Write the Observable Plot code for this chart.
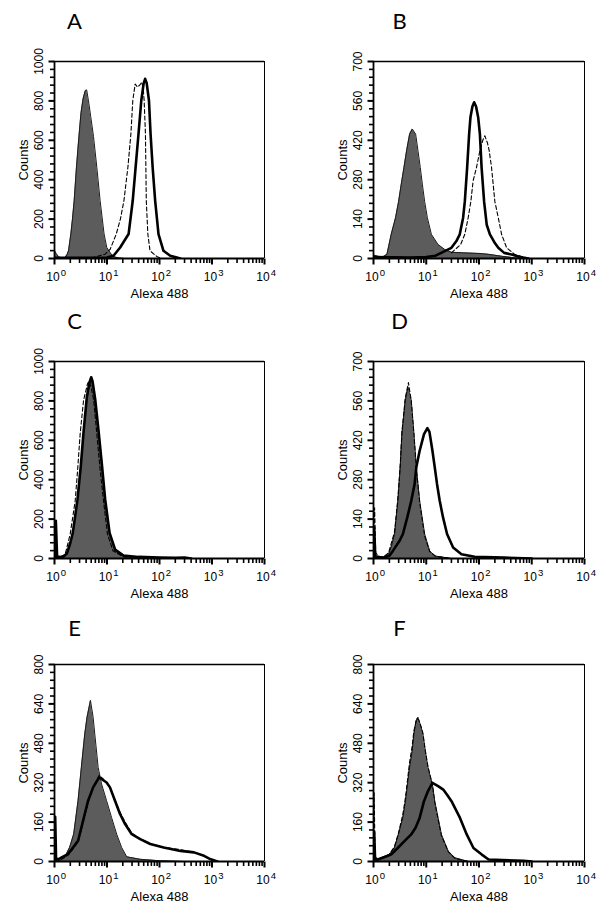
<!DOCTYPE html>
<html>
<head>
<meta charset="utf-8">
<script src="https://cdn.jsdelivr.net/npm/d3@7"></script>
<script src="https://cdn.jsdelivr.net/npm/@observablehq/plot@0.6"></script>
<style>
  html, body { margin: 0; padding: 0; background: #fff; }
  #wrap { position: relative; width: 602px; height: 908px; background: #fff; overflow: hidden; }
  #wrap > div { position: absolute; }
</style>
</head>
<body>
<div id="wrap"></div>
<script>
// ---------- tick labels ----------
const xTickValues = [1, 10, 100, 1000, 10000];
const xTickExponents = ["0", "1", "2", "3", "4"];
const xMinorTicks = [2,3,4,5,6,7,8,9, 20,30,40,50,60,70,80,90, 200,300,400,500,600,700,800,900, 2000,3000,4000,5000,6000,7000,8000,9000];
const yTicks1000 = [0, 200, 400, 600, 800, 1000];
const yTicks700 = [0, 140, 280, 420, 560, 700];
const yTicks800 = [0, 160, 320, 480, 640, 800];
const panelLetters = ["A", "B", "C", "D", "E", "F"];

// ---------- series: [Alexa 488 intensity, counts] ----------
// Panel A
const aFilled = [[1,40],[1.08,25],[1.2,8],[1.4,3],[1.6,5],[1.75,22],[1.85,39],[2.05,124],[2.2,200],[2.37,293],[2.6,450],[2.8,560],[2.95,632],[3.2,740],[3.5,810],[3.84,850],[4.1,856],[4.44,800],[4.9,720],[5.53,620],[6.4,463],[7.4,293],[8.8,124],[9.9,56],[12,22],[14,8],[17,2],[22,0]];
const aSolid = [[1,3],[5,3],[10,5],[13.3,14],[17.8,56],[22,95],[25.8,124],[30.9,293],[35,460],[39.8,632],[45,802],[50,890],[53.3,912],[57,890],[63,802],[67.6,632],[74,463],[82.7,293],[95.7,124],[119,39],[160,14],[214,5],[250,0]];
const aDashed = [[5,2],[9.2,22],[11.5,47],[15,124],[18,200],[21,293],[25,463],[28.5,632],[31,802],[34.4,886],[38,870],[42,880],[46,895],[49,860],[51,802],[54,632],[55,463],[56,293],[60,124],[66,39],[89,10],[110,0]];
// Panel B
const bFilled = [[1,12],[1.2,8],[1.5,5],[1.8,15],[2.17,86],[2.62,145],[2.99,202],[3.36,264],[3.78,323],[4.24,383],[4.84,442],[5.44,460],[6.29,442],[6.97,383],[7.71,323],[8.43,264],[9.33,202],[10.5,145],[12.5,86],[16.7,50],[22.4,32],[30,22],[50,20],[100,18],[150,15],[270,8],[500,2],[900,0]];
const bSolid = [[1,5],[5,3],[10,5],[15,10],[22.4,26],[30,38],[37.3,62],[43.2,86],[50,145],[53.8,202],[59.6,323],[65,442],[68.9,502],[75,540],[80.9,555],[88,540],[96.4,502],[104,442],[112,323],[125,202],[140,120],[161,86],[200,55],[232,38],[300,20],[415,14],[600,5],[861,0]];
const bDashed = [[30,20],[45,50],[53.8,86],[62.4,145],[70,202],[77.4,276],[89.5,323],[104,383],[118,420],[129,436],[145,410],[156,383],[173,323],[200,202],[232,145],[268,86],[334,38],[480,14],[900,0]];
// Panel C
const cFilled = [[1,5],[1.3,3],[1.5,5],[1.72,22],[2.0,70],[2.23,124],[2.74,293],[3.17,463],[3.57,632],[4.13,802],[4.6,880],[5.14,903],[5.5,870],[5.95,802],[6.89,632],[7.97,463],[9.23,293],[11.2,124],[14.3,39],[20.6,14],[32,3],[50,0]];
const cSolid = [[1,5],[1.06,191],[1.12,10],[1.3,8],[1.5,12],[1.72,25],[2.0,80],[2.23,130],[2.74,300],[3.17,470],[3.57,640],[4.13,820],[4.6,890],[5.0,920],[5.3,900],[5.95,810],[6.89,650],[7.97,480],[9.23,300],[11.2,130],[14.3,45],[20.6,15],[40,8],[100,5],[200,3],[300,5],[400,0]];
const cDashed = [[1,5],[1.3,5],[1.6,22],[1.99,124],[2.48,293],[2.78,463],[3.08,632],[3.57,802],[4.25,886],[4.5,900],[5.0,870],[5.6,800],[6.4,632],[7.4,450],[8.58,293],[10.2,124],[13,39],[20,10],[30,0]];
// Panel D
const dFilled = [[1.0,5],[1.3,3],[1.6,5],[1.93,15],[2.2,45],[2.51,87],[2.9,205],[3.21,324],[3.46,442],[4.0,561],[4.5,609],[4.8,590],[5.2,561],[5.85,442],[6.48,324],[7.5,205],[9.33,87],[11.6,27],[14.5,9],[30,0]];
const dSolid = [[1.0,5],[1.03,110],[1.08,8],[1.5,3],[2.0,10],[2.33,27],[3.12,63],[3.61,87],[4.37,146],[5.2,205],[6.02,265],[6.48,324],[7.5,383],[9.07,442],[10.5,463],[11.5,450],[13.1,383],[14.5,324],[16,265],[18,205],[20.8,146],[24.8,87],[32.3,39],[46.5,15],[83,6],[300,3],[1000,0]];
const dDashed = [[1.0,10],[1.05,180],[1.1,20],[1.3,5],[1.6,8],[1.93,20],[2.51,95],[2.9,215],[3.21,330],[3.46,450],[4.0,570],[4.6,625],[5.2,560],[5.85,440],[6.48,320],[7.5,200],[9.33,80],[11.6,25],[15,8],[30,0]];
// Panel E
const eFilled = [[1.0,3],[1.3,5],[1.56,16],[1.94,57],[2.32,111],[2.81,247],[3.25,382],[3.77,518],[4.17,586],[4.84,654],[5.44,586],[5.85,518],[6.79,382],[7.87,315],[9.82,247],[12.2,179],[15.3,111],[19,57],[23.8,19],[42.9,9],[100,3],[300,0]];
const eSolid = [[1.0,5],[1.03,182],[1.07,15],[1.15,8],[1.34,16],[1.8,30],[2.25,57],[2.81,84],[3.25,138],[3.77,193],[4.37,247],[5.44,301],[7.1,342],[8.5,330],[9.82,321],[11.4,301],[14.2,247],[17.7,193],[22.1,152],[29.6,111],[42.9,91],[66.7,71],[120,57],[251,43],[453,37],[705,23],[946,9],[1270,0]];
const eDashed = [[1.0,5],[1.4,12],[1.8,25],[2.25,50],[2.81,80],[3.25,130],[3.77,185],[4.37,240],[5.44,300],[7.1,350],[8.5,335],[9.82,318],[11.4,300],[14.2,250],[17.7,200],[22.1,160],[29.6,115],[42.9,92],[66.7,72],[120,58],[251,48],[453,38],[705,22],[946,8],[1270,0]];
// Panel F
const fFilled = [[1.0,5],[1.2,5],[1.38,15],[2.0,28],[2.49,55],[2.97,110],[3.59,177],[4.04,245],[4.81,380],[5.42,448],[5.83,516],[6.4,570],[6.95,586],[7.6,560],[8.66,516],[9.6,448],[10.8,380],[13.1,313],[14.5,245],[16.8,177],[19.4,110],[26.1,42],[35,15],[63,0]];
const fSolid = [[1.0,5],[1.03,120],[1.07,10],[1.2,8],[1.49,15],[2.15,28],[2.88,55],[3.86,83],[5.18,110],[6.27,137],[7.49,177],[9.06,245],[10.8,286],[13.1,319],[16.8,306],[21,292],[25,270],[30.1,245],[43.6,177],[58.5,110],[78.5,55],[113,28],[152,8],[700,3],[1000,0]];
const fDashed = [[1.0,10],[1.03,279],[1.07,20],[1.2,10],[1.5,15],[2.0,30],[2.49,60],[2.97,115],[3.59,190],[4.04,260],[4.81,400],[5.42,470],[5.83,530],[6.6,580],[7.2,575],[8.2,540],[8.66,520],[9.6,450],[10.8,385],[13.1,310],[14.5,240],[16.8,170],[19.4,105],[26.1,40],[35,12],[63,0]];

// ---------- layout ----------
const panels = [
  {letter: panelLetters[0], filled: aFilled, solid: aSolid, dashed: aDashed, yticks: yTicks1000, col: 0, row: 0},
  {letter: panelLetters[1], filled: bFilled, solid: bSolid, dashed: bDashed, yticks: yTicks700, col: 1, row: 0},
  {letter: panelLetters[2], filled: cFilled, solid: cSolid, dashed: cDashed, yticks: yTicks1000, col: 0, row: 1},
  {letter: panelLetters[3], filled: dFilled, solid: dSolid, dashed: dDashed, yticks: yTicks700, col: 1, row: 1},
  {letter: panelLetters[4], filled: eFilled, solid: eSolid, dashed: eDashed, yticks: yTicks800, col: 0, row: 2},
  {letter: panelLetters[5], filled: fFilled, solid: fSolid, dashed: fDashed, yticks: yTicks800, col: 1, row: 2}
];
const colGeom = [{left: 0, ml: 54, mr: 37, ldx: 20}, {left: 301, ml: 72, mr: 18, ldx: 26}];
const rowGeom = [{top: 0, h: 300, mt: 61, mb: 42, ldy: -33}, {top: 300, h: 300, mt: 61, mb: 42, ldy: -33}, {top: 600, h: 308, mt: 64, mb: 47, ldy: -29}];

// tick glyphs (drawn as custom dot symbols at the scale positions)
const tickDown = len => ({draw(ctx) { ctx.moveTo(0, 0); ctx.lineTo(0, len); }});
const tickLeft = len => ({draw(ctx) { ctx.moveTo(0, 0); ctx.lineTo(-len, 0); }});

const X = d => d[0], Y = d => d[1];
const wrap = document.getElementById("wrap");

for (const p of panels) {
  const cg = colGeom[p.col], rg = rowGeom[p.row];
  const ymax = p.yticks[p.yticks.length - 1];
  const step = p.yticks[1] / 5;
  const yMinor = d3.range(0, ymax + 0.001, step).filter(v => !p.yticks.includes(Math.round(v)));
  const chart = Plot.plot({
    width: 301, height: rg.h,
    marginLeft: cg.ml, marginRight: cg.mr, marginTop: rg.mt, marginBottom: rg.mb,
    style: {fontFamily: "Liberation Sans, Arial, sans-serif", background: "transparent", color: "#000", overflow: "visible"},
    x: {type: "log", domain: [1, 10000], axis: null},
    y: {domain: [0, ymax], axis: null},
    marks: [
      Plot.areaY(p.filled, {x: X, y: Y, fill: "#5c5c5c", clip: true}),
      Plot.line(p.filled, {x: X, y: Y, stroke: "#1a1a1a", strokeWidth: 1, clip: true}),
      Plot.line(p.dashed, {x: X, y: Y, stroke: "#000", strokeWidth: 1.1, strokeDasharray: "4,2.5", clip: true}),
      Plot.line(p.solid, {x: X, y: Y, stroke: "#000", strokeWidth: 2.6, strokeLinejoin: "round", clip: true}),
      // frame
      Plot.ruleX([10000], {stroke: "#000", strokeWidth: 1}),
      Plot.ruleY([ymax], {stroke: "#000", strokeWidth: 1.6}),
      Plot.ruleY([0], {stroke: "#000", strokeWidth: 2}),
      Plot.ruleX([1], {stroke: "#000", strokeWidth: 1.8}),
      // x ticks
      Plot.dot(xTickValues, {x: d => d, y: 0, symbol: tickDown(6), r: 3, fill: "none", stroke: "#000", strokeWidth: 2}),
      Plot.dot(xMinorTicks, {x: d => d, y: 0, symbol: tickDown(4.5), r: 3, fill: "none", stroke: "#000", strokeWidth: 1.6}),
      // y ticks
      Plot.dot(p.yticks, {x: 1, y: d => d, symbol: tickLeft(6), r: 3, fill: "none", stroke: "#000", strokeWidth: 2}),
      Plot.dot(yMinor, {x: 1, y: d => d, symbol: tickLeft(4.5), r: 3, fill: "none", stroke: "#000", strokeWidth: 1.6}),
      // x tick labels 10^n
      Plot.text(xTickValues, {x: d => d, frameAnchor: "bottom", dy: 19, dx: -1.5, text: () => "10", textAnchor: "middle", lineAnchor: "middle", fontSize: 12, fill: "#000"}),
      Plot.text(xTickValues, {x: d => d, frameAnchor: "bottom", dy: 14, dx: 6.3, text: (d, i) => xTickExponents[i], textAnchor: "start", lineAnchor: "middle", fontSize: 9.5, fill: "#000"}),
      // y tick labels
      Plot.text(p.yticks, {y: d => d, frameAnchor: "left", dx: -15, rotate: -90, text: d => String(d), textAnchor: "middle", lineAnchor: "middle", fontSize: 12, fill: "#000"}),
      // axis labels
      Plot.text(["Counts"], {frameAnchor: "left", dx: -31, rotate: -90, text: d => d, textAnchor: "middle", lineAnchor: "middle", fontSize: 13, fill: "#000"}),
      Plot.text(["Alexa 488"], {frameAnchor: "bottom", dy: 35, text: d => d, textAnchor: "middle", lineAnchor: "middle", fontSize: 13, fill: "#000"}),
      // panel letter
      Plot.text([p.letter], {frameAnchor: "top-left", dx: cg.ldx, dy: rg.ldy, text: d => d, textAnchor: "middle", lineAnchor: "bottom", fontSize: 22, fontFamily: "Lato, Open Sans, sans-serif", fill: "#000"})
    ]
  });
  const holder = document.createElement("div");
  holder.style.left = cg.left + "px";
  holder.style.top = rg.top + "px";
  holder.appendChild(chart);
  wrap.appendChild(holder);
}
</script>
</body>
</html>
